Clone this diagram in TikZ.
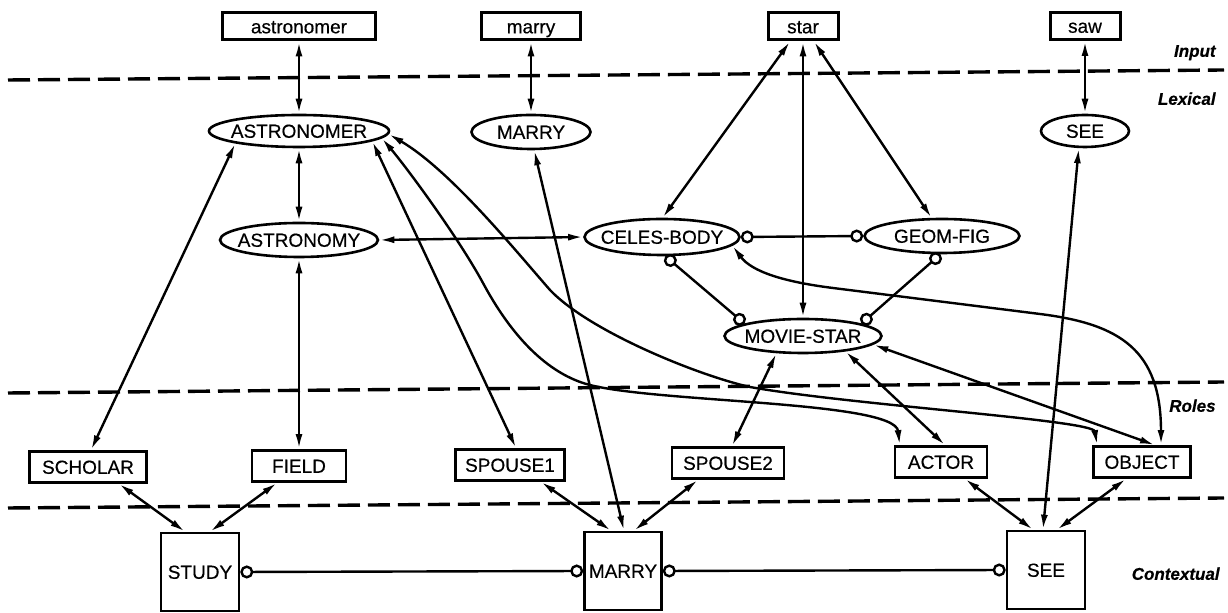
\documentclass[tikz,border=0pt]{standalone}
\usepackage{fontspec}
\newfontfamily\hel[FakeBold=0.4]{Liberation Sans}
\usetikzlibrary{arrows.meta,shapes.geometric,calc}
\newcommand\ctr[1]{\makebox[0pt]{#1}}
\begin{document}
\begin{tikzpicture}[x=0.5pt,y=-0.5pt,
  every node/.style={font=\hel\fontsize{9.5}{11}\selectfont, text height=6.8pt, text depth=0pt},
  inbox/.style={draw, rectangle, line width=1.5pt, minimum height=13.5pt, inner sep=0pt},
  lex/.style={draw, ellipse, line width=1.3pt, inner sep=0pt},
  role/.style={draw, rectangle, line width=1.4pt, minimum height=15.5pt, inner sep=0pt},
  ctx/.style={draw, rectangle, line width=1.3pt, minimum height=39pt, inner sep=0pt},
  lvl/.style={font=\hel\bfseries\itshape\fontsize{8.5}{10}\selectfont, anchor=east, inner sep=0pt},
  dbl/.style={line width=1.2pt, >={Latex[length=7.5pt,width=3.5pt]}, <->},
  inh/.style={line width=1.2pt, arrows={Circle[open,length=6.5pt]-Circle[open,length=6.5pt]}},
  sep/.style={line width=1.7pt, dash pattern=on 11pt off 4pt}
]
\fill[white] (0,0) rectangle (1228,613);
\useasboundingbox (0,0) rectangle (1228,613);

% separators
\draw[sep] (8,80) -- (1224,70);
\draw[sep] (8,393) -- (1224,382);
\draw[sep] (8,508) -- (1224,498);

% level labels
\node[lvl] (tInput) at (1216,50) {Input};
\node[lvl] (tLex) at (1216,98) {Lexical};
\node[lvl] (tRoles) at (1216,405) {Roles};
\node[lvl] (tCtx) at (1220,573) {Contextual};

% input
\node[inbox, minimum width=76.5pt] (in1) at (299,26.5) {astronomer};
\node[inbox, minimum width=49.5pt] (in2) at (531,26.5) {marry};
\node[inbox, minimum width=35pt] (in3) at (803,26.5) {star};
\node[inbox, minimum width=35pt] (in4) at (1085,26) {saw};

% lexical
\node[lex, minimum width=90pt, minimum height=16pt] (lASTR) at (299,131) {\ctr{ASTRONOMER}};
\node[lex, minimum width=59.5pt, minimum height=17pt] (lMARRY) at (531,132) {\ctr{MARRY}};
\node[lex, minimum width=44pt, minimum height=16pt] (lSEE) at (1085,131) {\ctr{SEE}};
\node[lex, minimum width=79pt, minimum height=17pt] (lASTRY) at (299,240) {\ctr{ASTRONOMY}};
\node[lex, minimum width=77.5pt, minimum height=18pt] (lCELES) at (662,237) {\ctr{CELES-BODY}};
\node[lex, minimum width=77.5pt, minimum height=17pt] (lGEOM) at (942,236) {\ctr{GEOM-FIG}};
\node[lex, minimum width=78.5pt, minimum height=17pt] (lMOVIE) at (803,336) {\ctr{MOVIE-STAR}};

% roles
\node[role, minimum width=58.5pt] (SCHOLAR) at (88,467) {SCHOLAR};
\node[role, minimum width=47pt] (FIELD) at (299,466) {FIELD};
\node[role, minimum width=54.5pt] (SPOUSE1) at (510,465) {SPOUSE1};
\node[role, minimum width=56pt] (SPOUSE2) at (728,463) {SPOUSE2};
\node[role, minimum width=46pt] (ACTOR) at (941,462) {ACTOR};
\node[role, minimum width=48.5pt] (OBJECT) at (1142,462) {OBJECT};

% contextual
\node[ctx, minimum width=39pt] (STUDY) at (200,572) {STUDY};
\node[ctx, minimum width=38.5pt] (cMARRY) at (623,571) {MARRY};
\node[ctx, minimum width=39pt] (cSEE) at (1046,570) {SEE};

% input - lexical
\draw[dbl] (in1.south) -- (lASTR.north);
\draw[dbl] (in2.south) -- (lMARRY.north);
\draw[dbl] (in4.south) -- (lSEE.north);
\draw[dbl] ($(in3.south)+(-13,0)$) -- (lCELES.88);
\draw[dbl] (in3.south) -- (lMOVIE.north);
\draw[dbl] ($(in3.south)+(11,0)$) -- (lGEOM.120);

% lexical
\draw[dbl] (lASTR.south) -- (lASTRY.north);
\draw[dbl] (lASTRY.south) -- (FIELD.north);
\draw[dbl] (lASTRY.east) -- (lCELES.west);
\draw[inh] (lCELES.east) -- (lGEOM.west);
\draw[inh] (lCELES.280) -- (lMOVIE.168);
\draw[inh] (lGEOM.265) -- (lMOVIE.12);

% lexical - roles
\draw[dbl] (lASTR.191) -- ($(SCHOLAR.north)+(3,0)$);
\draw[dbl] (lASTR.352) -- ($(SPOUSE1.north)+(6,0)$);
\draw[dbl] (lASTR.355) .. controls (407,168) and (458,237) .. (483,283)
  .. controls (505,324) and (538,368) .. (583,383)
  .. controls (643,403) and (895,400) .. ($(ACTOR.north west)+(6,0)$);
\draw[dbl] (lASTR.358) .. controls (450,170) and (515,250) .. (550,290)
  .. controls (590,332) and (700,376) .. (750,387)
  .. controls (850,405) and (1093,420) .. ($(OBJECT.north west)+(5,0)$);
\draw[dbl] (lCELES.353) .. controls (752,272) and (785,282) .. (833,288)
  -- (1040,314) .. controls (1120,324) and (1161,350) .. ($(OBJECT.north)+(19,0)$);
\draw[dbl] (lMOVIE.213) -- ($(SPOUSE2.north)+(4,0)$);
\draw[dbl] (lMOVIE.340) -- ($(ACTOR.north)+(4,0)$);
\draw[dbl] (lMOVIE.353) -- ($(OBJECT.north)+(13,0)$);

% lexical - contextual
\draw[dbl] (lMARRY.280) -- ($(cMARRY.north)+(1,0)$);
\draw[dbl] (lSEE.250) -- ($(cSEE.north)+(-3,0)$);

% roles - contextual
\draw[dbl] ($(SCHOLAR.south)+(31,0)$) -- ($(STUDY.north)+(-15,0)$);
\draw[dbl] ($(FIELD.south)+(-22,0)$) -- ($(STUDY.north)+(10,0)$);
\draw[dbl] ($(SPOUSE1.south)+(31,0)$) -- ($(cMARRY.north)+(-12,0)$);
\draw[dbl] ($(SPOUSE2.south)+(-30,0)$) -- ($(cMARRY.north)+(11,0)$);
\draw[dbl] ($(ACTOR.south)+(24,0)$) -- ($(cSEE.north)+(-13,0)$);
\draw[dbl] ($(OBJECT.south)+(-16,0)$) -- ($(cSEE.north)+(11,0)$);

% contextual
\draw[inh] (STUDY.east) -- (cMARRY.west);
\draw[inh] (cMARRY.east) -- (cSEE.west);
\end{tikzpicture}
\end{document}
